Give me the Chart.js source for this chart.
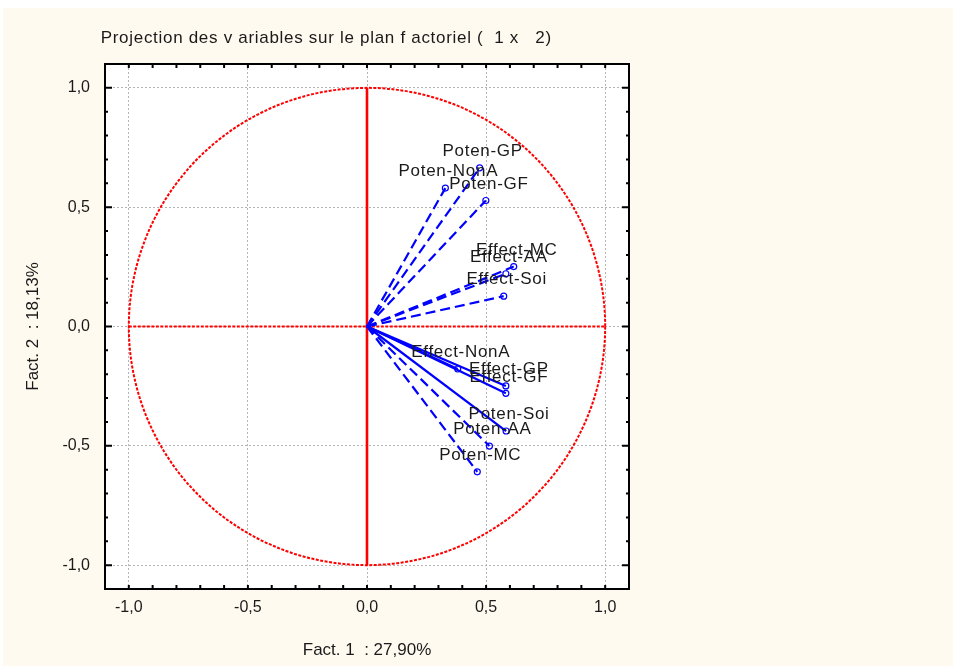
<!DOCTYPE html>
<html>
<head>
<meta charset="utf-8">
<script src="https://cdn.jsdelivr.net/npm/chart.js@4.4.0/dist/chart.umd.min.js"></script>
<style>
body { margin: 0; background: #ffffff; }
#wrap { position: absolute; left: 3px; top: 8px; width: 950px; height: 658px; background: #fffaf0; }
</style>
</head>
<body>
<div id="wrap"><canvas id="acpChart" width="950" height="658"></canvas></div>
<script>
// variables projected on factors 1 and 2
const variableNames = ["Poten-GP", "Poten-NonA", "Poten-GF", "Effect-MC", "Effect-AA", "Effect-Soi",
    "Effect-NonA", "Effect-GP", "Effect-GF", "Poten-Soi", "Poten-AA", "Poten-MC"];
const fact1Values = [0.473, 0.329, 0.499, 0.616, 0.583, 0.574, 0.381, 0.583, 0.583, 0.584, 0.514, 0.463];
const fact2Values = [0.665, 0.580, 0.528, 0.251, 0.221, 0.127, -0.178, -0.249, -0.280, -0.438, -0.501, -0.609];
const tickValues = [-1, -0.5, 0, 0.5, 1];

const titleText = "Projection des v ariables sur le plan f actoriel (  1 x   2)";
const xTitle = "Fact. 1  : 27,90%";
const yTitle = "Fact. 2  : 18,13%";

// styles
const solidLines = new Set(["Effect-NonA", "Effect-GP", "Effect-GF", "Poten-Soi"]);
const blue = '#0000ff';
const red = '#ff0000';
const textColor = '#1a1a1a';
const fontFamily = "'Liberation Sans', Arial, sans-serif";

const datasets = variableNames.map((name, i) =>
{
    return {
        label: name,
        data: [{ x: 0, y: 0 }, { x: fact1Values[i], y: fact2Values[i] }],
        showLine: true,
        borderColor: blue,
        borderWidth: 2.2,
        borderDash: solidLines.has(name) ? [] : [10, 5],
        pointRadius: [0, 3],
        pointBorderColor: blue,
        pointBorderWidth: 1.2,
        pointBackgroundColor: 'rgba(0,0,0,0)'
    };
});

const commaLabel = (v) => Number(v).toFixed(1).replace('.', ',');

const decorPlugin = {
    id: 'decor',
    beforeDraw(chart)
    {
        const { ctx, chartArea: a } = chart;
        ctx.save();
        ctx.fillStyle = '#ffffff';
        ctx.fillRect(a.left, a.top, a.right - a.left, a.bottom - a.top);
        ctx.restore();
    },
    beforeDatasetsDraw(chart)
    {
        const { ctx, scales: { x, y } } = chart;
        const cx = x.getPixelForValue(0);
        const cy = y.getPixelForValue(0);
        const rx = x.getPixelForValue(1) - cx;
        const ry = cy - y.getPixelForValue(1);
        ctx.save();
        ctx.strokeStyle = red;
        ctx.lineWidth = 2;
        // unit circle
        ctx.setLineDash([3, 1.5]);
        ctx.beginPath();
        ctx.ellipse(cx, cy, rx, ry, 0, 0, Math.PI * 2);
        ctx.stroke();
        // horizontal axis
        ctx.beginPath();
        ctx.moveTo(x.getPixelForValue(-1), cy);
        ctx.lineTo(x.getPixelForValue(1), cy);
        ctx.stroke();
        // vertical axis
        ctx.setLineDash([]);
        ctx.lineWidth = 2.6;
        ctx.beginPath();
        ctx.moveTo(cx, y.getPixelForValue(1));
        ctx.lineTo(cx, y.getPixelForValue(-1));
        ctx.stroke();
        ctx.restore();
    },
    afterDatasetsDraw(chart)
    {
        const { ctx, chartArea: a, scales: { x, y } } = chart;
        ctx.save();

        // variable labels
        ctx.font = "17px " + fontFamily;
        ctx.letterSpacing = '0.7px';
        ctx.fillStyle = textColor;
        ctx.textAlign = 'center';
        ctx.textBaseline = 'middle';
        for (let i = 0; i < variableNames.length; i++)
        {
            const px = x.getPixelForValue(fact1Values[i]);
            const py = y.getPixelForValue(fact2Values[i]);
            ctx.fillText(variableNames[i], px + 3, py - 16.5);
        }

        // title
        ctx.textAlign = 'left';
        ctx.fillText(titleText, 97.7, 30);
        ctx.letterSpacing = '0px';

        // frame
        ctx.strokeStyle = '#000000';
        ctx.lineWidth = 2;
        ctx.strokeRect(a.left, a.top, a.right - a.left, a.bottom - a.top);

        // inward ticks
        ctx.lineWidth = 2;
        ctx.beginPath();
        for (let k = -10; k <= 10; k++)
        {
            const v = k / 10;
            const major = k % 5 == 0;
            const xp = x.getPixelForValue(v);
            ctx.moveTo(xp, a.top);
            ctx.lineTo(xp, a.top + 4);
            ctx.moveTo(xp, a.bottom);
            ctx.lineTo(xp, a.bottom - 4);
            const yp = y.getPixelForValue(v);
            const len = major ? 7 : 3;
            ctx.moveTo(a.left, yp);
            ctx.lineTo(a.left + len, yp);
            ctx.moveTo(a.right, yp);
            ctx.lineTo(a.right - len, yp);
        }
        ctx.stroke();
        ctx.restore();
    }
};

new Chart(document.getElementById("acpChart"), {
    type: 'scatter',
    data: { datasets: datasets },
    options: {
        responsive: false,
        animation: false,
        layout: { padding: { top: 56, right: 324, left: 0, bottom: 0 } },
        plugins: {
            legend: { display: false },
            tooltip: { enabled: false }
        },
        scales: {
            x: {
                min: -1.1,
                max: 1.1,
                afterBuildTicks: (scale) => { scale.ticks = tickValues.map(v => ({ value: v })); },
                afterFit: (scale) => { scale.height = 77; },
                grid: { color: '#b4b4b4', lineWidth: 1, drawTicks: false },
                border: { display: false, dash: [2, 2] },
                ticks: {
                    padding: 9,
                    color: textColor,
                    font: { family: fontFamily, size: 16 },
                    maxRotation: 0,
                    callback: commaLabel
                },
                title: {
                    display: true,
                    text: xTitle,
                    color: textColor,
                    font: { family: fontFamily, size: 17 },
                    padding: { top: 0, bottom: 5 }
                }
            },
            y: {
                min: -1.1,
                max: 1.1,
                afterBuildTicks: (scale) => { scale.ticks = tickValues.map(v => ({ value: v })); },
                afterFit: (scale) => { scale.width = 102; },
                grid: { color: '#b4b4b4', lineWidth: 1, drawTicks: false },
                border: { display: false, dash: [2, 2] },
                ticks: {
                    padding: 15,
                    color: textColor,
                    font: { family: fontFamily, size: 16 },
                    callback: commaLabel
                },
                title: {
                    display: true,
                    text: yTitle,
                    color: textColor,
                    font: { family: fontFamily, size: 17 },
                    padding: { top: 20, bottom: 0 }
                }
            }
        }
    },
    plugins: [decorPlugin]
});
</script>
</body>
</html>
